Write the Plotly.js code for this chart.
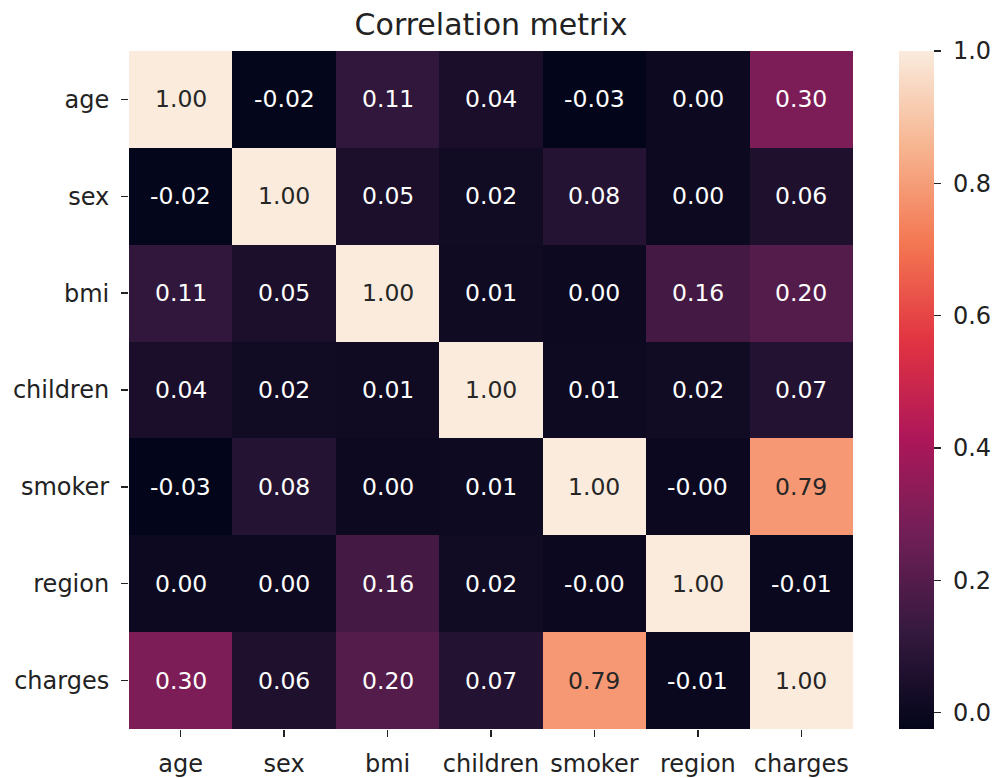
<!DOCTYPE html>
<html>
<head>
<meta charset="utf-8">
<script src="https://cdn.plot.ly/plotly-3.0.1.min.js"></script>
<style>html,body{margin:0;padding:0;background:#fff;}#chart{width:1003px;height:778px;}</style>
</head>
<body>
<div id="chart"></div>
<script>
const labels = ["age", "sex", "bmi", "children", "smoker", "region", "charges"];
const rowAge      = [1.000, -0.021, 0.109, 0.042, -0.025, 0.002, 0.299];
const rowSex      = [-0.021, 1.000, 0.046, 0.017, 0.076, 0.004, 0.057];
const rowBmi      = [0.109, 0.046, 1.000, 0.013, 0.004, 0.158, 0.198];
const rowChildren = [0.042, 0.017, 0.013, 1.000, 0.008, 0.017, 0.068];
const rowSmoker   = [-0.025, 0.076, 0.004, 0.008, 1.000, -0.002, 0.787];
const rowRegion   = [0.002, 0.004, 0.158, 0.017, -0.002, 1.000, -0.006];
const rowCharges  = [0.299, 0.057, 0.198, 0.068, 0.787, -0.006, 1.000];
const z = [rowAge, rowSex, rowBmi, rowChildren, rowSmoker, rowRegion, rowCharges];
const colorbarTicks = [0.0, 0.2, 0.4, 0.6, 0.8, 1.0];

const rocket = [
  [0.0, "#03051a"],
  [0.143, "#35193e"],
  [0.286, "#701f57"],
  [0.429, "#ad1759"],
  [0.571, "#e13342"],
  [0.714, "#f37651"],
  [0.857, "#f6b48f"],
  [1.0, "#faebdd"]
];

let zmin = Infinity, zmax = -Infinity;
z.forEach(r => r.forEach(v => { zmin = Math.min(zmin, v); zmax = Math.max(zmax, v); }));

const annotations = [];
for (let i = 0; i < labels.length; i++) {
  for (let j = 0; j < labels.length; j++) {
    const v = z[i][j];
    annotations.push({
      x: labels[j], y: labels[i], xref: "x", yref: "y",
      text: v.toFixed(2), showarrow: false,
      font: {family: "DejaVu Sans", size: 23.5, color: v > 0.6 ? "#262626" : "#ffffff"}
    });
  }
}

const trace = {
  type: "heatmap",
  x: labels, y: labels, z: z,
  zmin: zmin, zmax: zmax,
  colorscale: rocket,
  hoverinfo: "skip",
  colorbar: {
    x: 1.063, xanchor: "left", xpad: 0, ypad: 0,
    y: 0.5, yanchor: "middle", len: 1, lenmode: "fraction",
    thickness: 35, outlinewidth: 0,
    tickvals: colorbarTicks, ticktext: colorbarTicks.map(t => "\u00a0" + t.toFixed(1)),
    ticks: "outside", ticklen: 7, tickwidth: 1.3, tickcolor: "#222",
    tickfont: {family: "DejaVu Sans", size: 24, color: "#222"}
  }
};

const axisCommon = {
  showgrid: false, zeroline: false, showline: false,
  ticks: "outside", ticklen: 7, tickwidth: 1.3, tickcolor: "#222",
  tickfont: {family: "DejaVu Sans", size: 24, color: "#222"}
};

const layout = {
  width: 1003, height: 778,
  margin: {l: 129, r: 145, t: 51, b: 49, pad: 0},
  paper_bgcolor: "#ffffff", plot_bgcolor: "#ffffff",
  title: {text: "Correlation metrix", x: 0.5, xref: "paper", xanchor: "center",
          y: 0.968, yref: "container", yanchor: "middle",
          font: {family: "DejaVu Sans", size: 30, color: "#222"}},
  xaxis: Object.assign({}, axisCommon, {ticklabelstandoff: 6}),
  yaxis: Object.assign({}, axisCommon, {autorange: "reversed", ticklabelstandoff: 7}),
  annotations: annotations,
  font: {family: "DejaVu Sans"}
};

Plotly.newPlot("chart", [trace], layout, {displayModeBar: false, staticPlot: true});
</script>
</body>
</html>
